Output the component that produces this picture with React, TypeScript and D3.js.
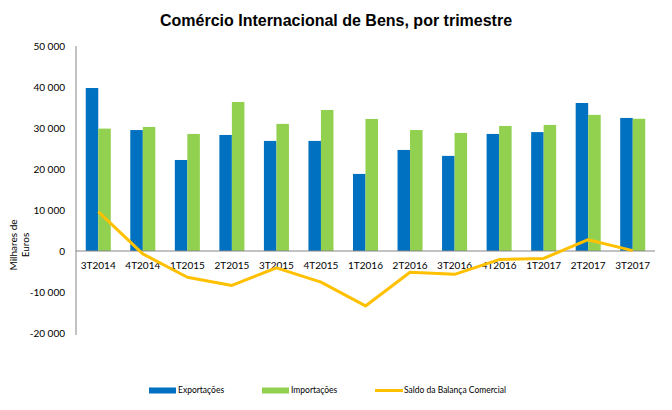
import React from 'react';
import * as d3 from 'd3';

// Trimestres
const quarters = [
  '3T2014', '4T2014', '1T2015', '2T2015', '3T2015', '4T2015', '1T2016',
  '2T2016', '3T2016', '4T2016', '1T2017', '2T2017', '3T2017',
];

// Milhares de euros
const exportacoes = [39750, 29500, 22200, 28300, 26850, 26850, 18800, 24650, 23200, 28550, 29000, 36100, 32450];
const importacoes = [29850, 30250, 28550, 36350, 31000, 34400, 32200, 29500, 28800, 30500, 30750, 33200, 32250];
const saldo = [9600, -700, -6400, -8400, -4100, -7600, -13400, -5200, -5700, -2100, -1800, 2750, 100];

const yTicks = [50000, 40000, 30000, 20000, 10000, 0, -10000, -20000];

const legendItems = [
  { label: 'Exportações', color: '#0070c0', kind: 'bar' },
  { label: 'Importações', color: '#92d050', kind: 'bar' },
  { label: 'Saldo da Balança Comercial', color: '#ffc000', kind: 'line' },
];

const W = 672;
const H = 410;
const left = 76;
const right = 655;
const fmt = (v: number) => {
  const s = d3.format(',')(Math.abs(v)).replace(/,/g, ' ');
  return v < 0 ? '-' + s : s;
};

export default function App() {
  const x = d3.scaleBand<string>().domain(quarters).range([left, right]).paddingInner(0).paddingOuter(0);
  const y = d3.scaleLinear().domain([-20000, 50000]).range([333, 46]);
  const inner = d3.scaleBand<string>()
    .domain(['exp', 'imp'])
    .range([0, x.bandwidth()])
    .paddingInner(0)
    .paddingOuter(0.78);

  const line = d3.line<number>()
    .x((_, i) => (x(quarters[i]) as number) + x.bandwidth() / 2)
    .y(d => y(d));

  const tickFont = 'Lato, "Open Sans", sans-serif';

  return (
    <svg width={W} height={H} style={{ position: 'absolute', left: 0, top: 0, background: '#fff' }}>
      <text x={336} y={26} textAnchor="middle" fontFamily='"Liberation Sans", Arial, sans-serif'
        fontWeight="bold" fontSize={16} fill="#000">
        Comércio Internacional de Bens, por trimestre
      </text>

      {/* barras */}
      {quarters.map((q, i) => (
        <g key={q} transform={`translate(${x(q)},0)`}>
          <rect x={inner('exp')} width={inner.bandwidth()} y={y(exportacoes[i])}
            height={y(0) - y(exportacoes[i])} fill="#0070c0" />
          <rect x={inner('imp')} width={inner.bandwidth()} y={y(importacoes[i])}
            height={y(0) - y(importacoes[i])} fill="#92d050" />
        </g>
      ))}

      {/* eixo Y */}
      <line x1={left} x2={left} y1={y(50000)} y2={y(-20000) + 2} stroke="#868686" strokeWidth={1} />
      {yTicks.map(t => (
        <text key={t} x={65} y={y(t)} dy="0.35em" textAnchor="end" fontFamily={tickFont}
          fontSize={10} fill="#000">{fmt(t)}</text>
      ))}

      {/* linha do zero */}
      <line x1={left} x2={right} y1={y(0)} y2={y(0)} stroke="#868686" strokeWidth={1} />

      {/* rótulos das categorias */}
      {quarters.map(q => (
        <text key={q} x={(x(q) as number) + x.bandwidth() / 2} y={265} dy="0.35em" textAnchor="middle"
          fontFamily={tickFont} fontSize={10} fill="#000">{q}</text>
      ))}

      {/* saldo */}
      <path d={line(saldo) || ''} fill="none" stroke="#ffc000" strokeWidth={3} strokeLinejoin="round" />

      {/* título do eixo */}
      <g transform="translate(17,245) rotate(-90)" fontFamily={tickFont} fontSize={10} fill="#000">
        <text x={0} y={0} textAnchor="middle">Milhares de</text>
        <text x={0} y={12} textAnchor="middle">Euros</text>
      </g>

      {/* legenda */}
      {legendItems.map((d, i) => {
        const lx = [149, 262, 375][i];
        return (
          <g key={d.label} transform={`translate(${lx},390)`}>
            {d.kind === 'bar'
              ? <rect x={0} y={-2.5} width={27} height={6} fill={d.color} />
              : <line x1={0} x2={28} y1={0.5} y2={0.5} stroke={d.color} strokeWidth={3} />}
            <text x={29} y={0} dy="0.35em" fontFamily={tickFont} fontSize={8.5} fill="#000">{d.label}</text>
          </g>
        );
      })}
    </svg>
  );
}
